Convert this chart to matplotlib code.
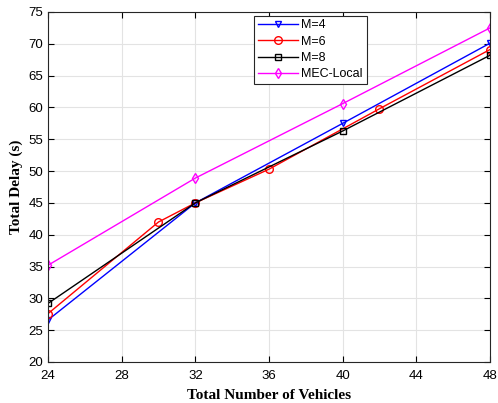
import matplotlib
matplotlib.use('Agg')
import matplotlib.pyplot as plt

# total delay vs. number of vehicles
x_m4 = [24, 32, 40, 48]
y_m4 = [26.6, 45.0, 57.5, 70.1]
x_m6 = [24, 30, 32, 36, 42, 48]
y_m6 = [27.6, 42.0, 45.0, 50.3, 59.8, 69.1]
x_m8 = [24, 32, 40, 48]
y_m8 = [29.2, 45.0, 56.3, 68.2]
x_mec = [24, 32, 40, 48]
y_mec = [35.2, 48.9, 60.6, 72.5]

xticks = [24, 28, 32, 36, 40, 44, 48]
yticks = list(range(20, 80, 5))

plt.rcParams['font.family'] = ['Liberation Sans', 'DejaVu Sans']

fig = plt.figure(figsize=(4.98, 4.03), dpi=100)
ax = fig.add_axes([48/498, 41/403, 442/498, 350/403])

ax.plot(x_m4, y_m4, color='#0000ff', marker='v', markersize=5, markerfacecolor='none', lw=1, label='M=4')
ax.plot(x_m6, y_m6, color='#ff0000', marker='o', markersize=5.5, markerfacecolor='none', lw=1, label='M=6')
ax.plot(x_m8, y_m8, color='black', marker='s', markersize=4, markerfacecolor='none', lw=1, label='M=8')
ax.plot(x_mec, y_mec, color='#ff00ff', marker='d', markersize=5.5, markerfacecolor='none', lw=1, label='MEC-Local')

ax.set_xlim(24, 48)
ax.set_ylim(20, 75)
ax.set_xticks(xticks)
ax.set_yticks(yticks)
ax.tick_params(direction='in', top=True, right=True, labelsize=9.5, length=4)
ax.tick_params(axis='x', pad=6)
ax.grid(True, color='#e3e3e3', lw=0.8)
ax.set_axisbelow(True)
for s in ax.spines.values():
    s.set_color('#262626')

ax.set_xlabel('Total Number of Vehicles', family='Liberation Serif', fontweight='bold', fontsize=11, labelpad=5)
ax.set_ylabel('Total Delay (s)', family='Liberation Serif', fontweight='bold', fontsize=11, labelpad=4)

leg = ax.legend(loc='upper left', bbox_to_anchor=(0.467, 0.99), fontsize=9, fancybox=False,
                framealpha=1, edgecolor='#262626', handlelength=3.2, borderpad=0.3,
                labelspacing=0.35, handletextpad=0.25, borderaxespad=0)
leg.get_frame().set_linewidth(0.8)

fig.savefig('out.png', dpi=100)
